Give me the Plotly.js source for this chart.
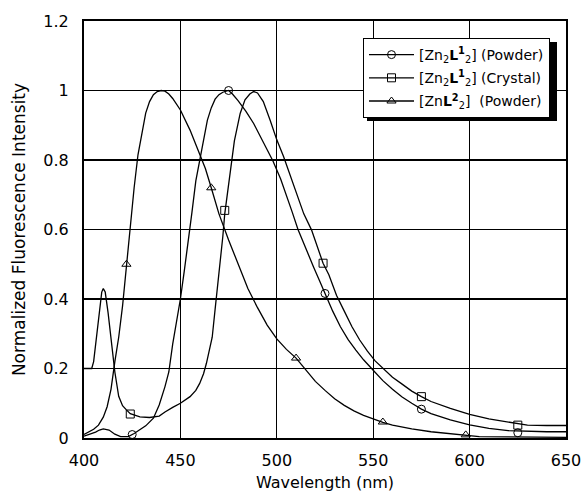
<!DOCTYPE html>
<html>
<head>
<meta charset="utf-8">
<script src="https://cdn.plot.ly/plotly-3.0.1.min.js"></script>
<style>html,body{margin:0;padding:0;background:#fff;}#chart{width:583px;height:495px;}</style>
</head>
<body>
<div id="chart"></div>
<script>
// ---- data ----
var powderWl = [400,403,406,408,410,413,416,419,423,426,429,432,436,439,442,444,446,448,450,452,454,456,458,460,462,464,466,468,470,472,475,477,480,484,488,492,495,498,502,505,508,511,515,519,522,525,529,533,537,541,545,550,555,560,565,570,575,580,590,600,610,620,630,640,650];
var powderInt = [0.005,0.01,0.017,0.023,0.026,0.023,0.011,0.004,0.004,0.013,0.023,0.035,0.057,0.095,0.148,0.19,0.27,0.335,0.4,0.48,0.56,0.65,0.74,0.8,0.865,0.915,0.95,0.975,0.988,0.995,1.0,0.99,0.97,0.94,0.905,0.86,0.828,0.797,0.745,0.7,0.65,0.6,0.545,0.493,0.455,0.416,0.365,0.32,0.283,0.253,0.225,0.195,0.165,0.14,0.118,0.1,0.083,0.07,0.052,0.038,0.028,0.021,0.019,0.018,0.018];
var powderMarkWl = [425,475,525,575,625];
var powderMarkInt = [0.01,1.0,0.416,0.083,0.015];

var crystalWl = [400,404,405,406.5,408,409.2,410,411,412.5,414.4,416,418,420,422,424,429,434,439,442,446,450,455,458,460,462,463.5,465,466.5,468,470,472,473,474,476,478,481,483.5,486,488,490,493,496.5,500,503.5,506,510,514,518,521,524,527,531,535,539,543,547,551,555,560,565,570,575,580,590,600,610,620,625,630,640,650];
var crystalInt = [0.2,0.2,0.22,0.29,0.37,0.42,0.43,0.42,0.36,0.273,0.19,0.12,0.093,0.081,0.07,0.061,0.059,0.063,0.075,0.088,0.1,0.119,0.137,0.157,0.185,0.215,0.25,0.29,0.37,0.47,0.58,0.645,0.69,0.77,0.855,0.934,0.973,0.99,0.997,0.993,0.968,0.915,0.858,0.81,0.771,0.71,0.645,0.599,0.55,0.503,0.47,0.41,0.365,0.32,0.282,0.25,0.222,0.2,0.175,0.155,0.135,0.119,0.105,0.085,0.068,0.055,0.045,0.04,0.037,0.036,0.036];
var crystalMarkWl = [424,473,524,575,625];
var crystalMarkInt = [0.069,0.655,0.503,0.119,0.037];

var znWl = [400,403,405,407.5,410,412,414,416,418,420,421,422,424,426,428,430,432,434,436,438,440,442,444,446,448,450,455,460,463,466,470,475,480,485,490,495,500,505,510,515,520,525,530,535,540,545,550,555,560,570,580,590,598,605,620,635,650];
var znInt = [0.01,0.018,0.025,0.037,0.06,0.09,0.14,0.22,0.29,0.38,0.44,0.5,0.61,0.72,0.815,0.88,0.935,0.968,0.988,0.997,1.0,0.998,0.99,0.977,0.962,0.944,0.886,0.82,0.775,0.72,0.645,0.57,0.5,0.43,0.375,0.325,0.285,0.255,0.23,0.195,0.163,0.137,0.113,0.094,0.078,0.065,0.054,0.045,0.037,0.026,0.018,0.012,0.008,0.004,0.003,0.002,0.002];
var znMarkWl = [422,466,510,555,598];
var znMarkInt = [0.5,0.72,0.23,0.046,0.009];

var seriesNames = [
  '[Zn<sub>2</sub><b>L<sup>1</sup></b><sub>2</sub>] (Powder)',
  '[Zn<sub>2</sub><b>L<sup>1</sup></b><sub>2</sub>] (Crystal)',
  '[Zn<b>L<sup>2</sup></b><sub>2</sub>]\u00a0 (Powder)'
];
var xTickVals = [400,450,500,550,600,650];
var yTickVals = [0,0.2,0.4,0.6,0.8,1,1.2];

// ---- build traces ----
function interleave(a){ var o=[]; a.forEach(function(v,i){ if(i) o.push(null); o.push(v); }); return o; }
var symbols = ['circle-open','square-open','triangle-up-open'];
var curves = [[powderWl,powderInt,powderMarkWl,powderMarkInt],[crystalWl,crystalInt,crystalMarkWl,crystalMarkInt],[znWl,znInt,znMarkWl,znMarkInt]];
var traces = [];
curves.forEach(function(c,i){
  traces.push({x:c[0], y:c[1], mode:'lines', line:{color:'#000', width:1.3}, showlegend:false, legendgroup:'g'+i, hoverinfo:'skip'});
});
curves.forEach(function(c,i){
  traces.push({x:interleave(c[2]), y:interleave(c[3]), mode:'lines+markers', connectgaps:false, name:seriesNames[i], legendgroup:'g'+i,
    line:{color:'#000', width:1.3},
    marker:{symbol:symbols[i], size:8, color:'#000', line:{width:1, color:'#000'}}});
});

var font = {family:'"DejaVu Sans", sans-serif', size:16, color:'#000'};
var yTitleFont = {family:'"DejaVu Sans", sans-serif', size:17, color:'#000'};
// legend shadow box in paper coordinates (plot area: 84..566 x, 21..438 y)
function pxX(v){ return (v - 84)/482; }
function pxY(v){ return (438 - v)/417; }
var layout = {
  width:583, height:495,
  margin:{l:84, r:17, t:21, b:57},
  paper_bgcolor:'#fff', plot_bgcolor:'#fff',
  font:font,
  showlegend:true,
  xaxis:{range:[400,650], tickvals:xTickVals, showgrid:true, gridcolor:'#000', gridwidth:1.2, zeroline:false,
    showline:true, linecolor:'#000', linewidth:2, mirror:true, ticks:'', ticklabelstandoff:7,
    tickfont:font, title:{text:'Wavelength (nm)', font:font, standoff:8}},
  yaxis:{range:[0,1.2], tickvals:yTickVals, showgrid:true, gridcolor:'#000', gridwidth:1.2, zeroline:false,
    showline:true, linecolor:'#000', linewidth:2, mirror:true, ticks:'', ticklabelstandoff:10,
    tickfont:font, title:{text:'Normalized Fluorescence Intensity', font:yTitleFont, standoff:13}},
  legend:{x:pxX(363), y:pxY(38), xanchor:'left', yanchor:'top', bgcolor:'#fff', bordercolor:'#000', borderwidth:1,
    itemwidth:45, traceorder:'grouped', tracegroupgap:2,
    font:{family:'"DejaVu Sans", sans-serif', size:14, color:'#000'}},
  shapes:[{type:'rect', xref:'paper', yref:'paper', layer:'above',
    x0:pxX(367), x1:pxX(557), y0:pxY(121), y1:pxY(42), fillcolor:'#000', line:{width:0}}]
};

Plotly.newPlot('chart', traces, layout, {displayModeBar:false, staticPlot:true});
</script>
</body>
</html>
